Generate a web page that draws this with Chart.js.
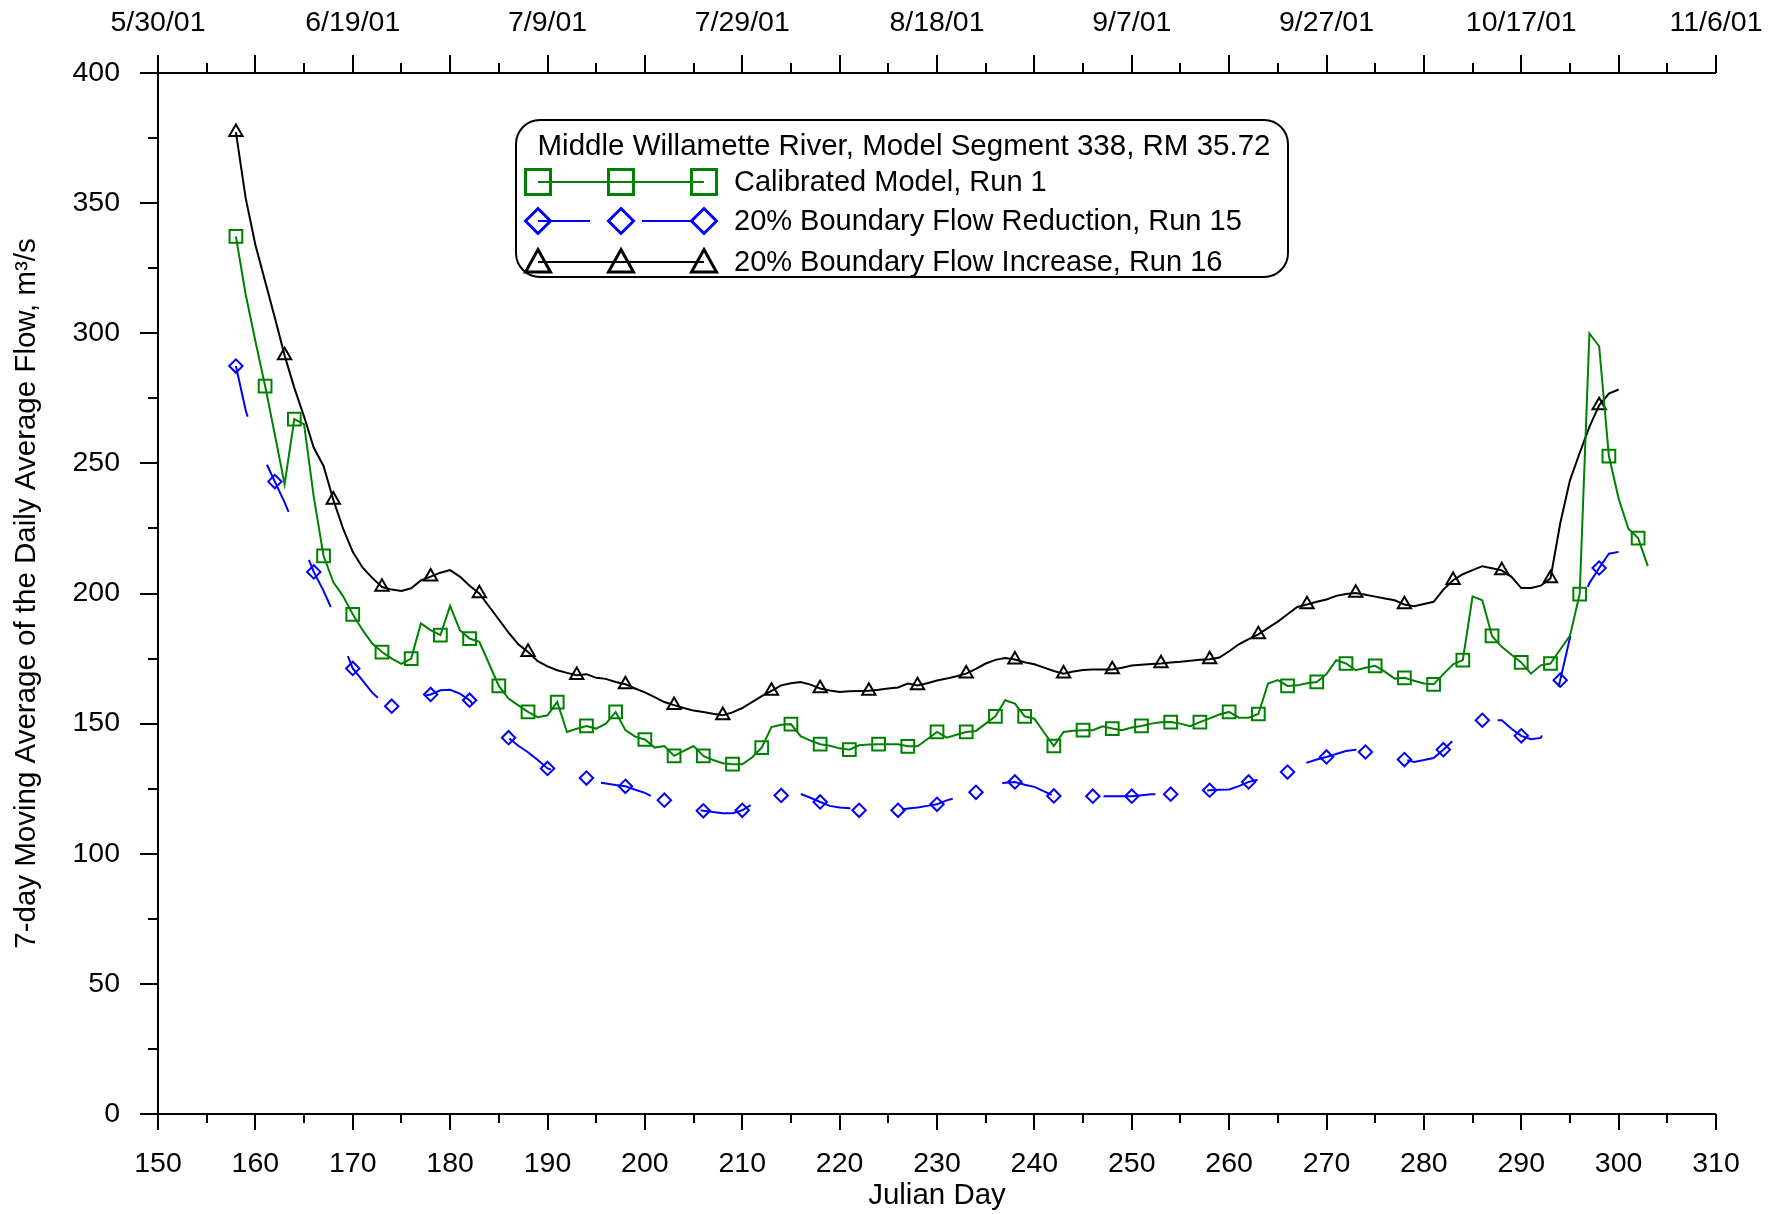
<!DOCTYPE html>
<html>
<head>
<meta charset="utf-8">
<title>Middle Willamette River, Model Segment 338</title>
<script src="https://cdn.jsdelivr.net/npm/chart.js@4.4.4/dist/chart.umd.min.js"></script>
<style>
  html, body { margin: 0; padding: 0; background: #fff; }
  #wrap { width: 1782px; height: 1215px; }
</style>
</head>
<body>
<div id="wrap"><canvas id="chart" width="1782" height="1215"></canvas></div>
<script>
// 7-day moving average flow (m3/s), one value per Julian day.
const CALIBRATED_FIRST_DAY = 158;
const calibrated = [
  337.2, 315, 297, 279.7, 261, 242, 267, 265, 237, 214.5,
  204.4, 199, 192, 186, 180.8, 177.5, 175, 173, 175, 188.5,
  185.9, 184, 195.2, 185.9, 182.7, 181.4, 173, 164.5, 159.6, 157,
  154.5, 152.5, 153.2, 158.3, 146.8, 148, 149.1, 148.1, 150, 154.5,
  147.5, 145, 143.9, 140.8, 141.4, 137.6, 139.5, 141.4, 137.6, 136,
  134.8, 134.4, 134.4, 137, 140.8, 148.7, 149.6, 149.8, 145.2, 143.5,
  142.1, 141.5, 140.5, 140, 141.7, 142, 142.1, 142.1, 142.1, 141.3,
  141.3, 144, 146.8, 144.6, 145.7, 146.8, 147.2, 150, 152.8, 159,
  157.7, 152.8, 151.9, 146.6, 141.4, 146.8, 147.3, 147.5, 147.5, 149,
  148.1, 147.5, 148.5, 149.1, 150, 150.5, 150.6, 150, 149, 150.6,
  152, 153.5, 154.5, 152.3, 152.3, 153.7, 165.4, 166.7, 164.5, 164.7,
  165.5, 166, 169, 174.4, 173.1, 170.5, 171.5, 172.2, 170, 167.3,
  167.6, 166.5, 165.4, 165.1, 169, 172.8, 174.4, 198.9, 197.4, 183.7,
  179.5, 176.5, 173.5, 169.2, 172.4, 173.1, 178.5, 183.7, 199.8, 299.9,
  295, 252.8, 236.5, 224.9, 221.3, 210.5
];

const REDUCTION_FIRST_DAY = 158;
const reduction = [
  287.4, 270.5, 258, 251, 243, 235, 226, 217.5, 208.3, 201,
  192.7, 180.8, 171.2, 166.6, 161.9, 158.5, 156.7, 158, 159.5, 160.5,
  161.2, 162.8, 163, 161.5, 159, 154, 150, 146, 144.6, 141.5,
  139, 136, 132.8, 131.5, 130.5, 129.8, 129.1, 127.6, 127, 126.4,
  125.9, 124.6, 123.4, 121.5, 120.6, 119.5, 118.3, 117.2, 116.5, 116,
  115.6, 115.6, 116.7, 119, 120.5, 121.6, 122.4, 123, 123, 121.5,
  119.9, 118.4, 117.8, 117.5, 116.7, 116.7, 116.7, 116.7, 116.7, 117.4,
  117.8, 118.4, 119, 120.5, 121.5, 122.6, 123.6, 125, 126.5, 127.3,
  127.6, 126.5, 125.7, 124, 122.2, 122.1, 122.1, 122.1, 122.1, 122.1,
  122.1, 122.1, 122.1, 122.5, 122.9, 122.9, 122.9, 123.2, 123.6, 124,
  124.4, 124.6, 124.7, 126, 127.6, 128.5, 129.5, 130.5, 131.4, 133.8,
  135, 136.2, 137.2, 138.3, 139.5, 140, 139.1, 138.2, 137.3, 136.7,
  136.2, 135.3, 136, 136.8, 140, 143.5, 146.5, 149, 151.3, 151.3,
  151.3, 148, 145.3, 144, 144.5, 152, 166.7, 183, 195, 204,
  209.8, 215.3, 216
];

const INCREASE_FIRST_DAY = 158;
const increase = [
  377.3, 352, 334, 320, 306, 291.5, 279, 268, 256, 249,
  236, 225, 216, 210, 206, 202.5, 201.5, 201, 202, 205,
  206.5, 208, 209, 206.5, 203, 200, 195, 190, 185, 180.5,
  177.5, 174, 172, 170.5, 169.5, 168.6, 169, 167.6, 167.2, 166,
  165.1, 163.5, 162, 160.2, 158.3, 157.1, 156, 155, 154.5, 153.8,
  153.2, 154.3, 156, 158.3, 160.6, 162.6, 164.7, 165.5, 166, 165,
  163.5, 162.7, 162.2, 162.4, 162.5, 162.6, 163, 163.5, 163.9, 165.4,
  164.7, 165.5, 166.6, 167.3, 168.2, 169.2, 171, 173.1, 174.5, 175.2,
  174.6, 173.6, 172.8, 171.5, 170.2, 169.2, 170, 170.6, 170.8, 170.8,
  170.8, 171.5, 172.3, 172.6, 172.9, 173.1, 173.5, 173.8, 174.2, 174.5,
  174.7, 175.4, 177.8, 180.5, 182.5, 184.3, 186.8, 189.2, 192, 194.8,
  195.8, 196.8, 197.7, 199.1, 199.8, 200.2, 199.5, 198.8, 198.1, 197.4,
  195.8, 195.1, 196, 196.8, 201.5, 205.1, 207.4, 209, 210.5, 209.7,
  208.9, 206.4, 202.1, 202.1, 203, 205.8, 226.9, 243.5, 254, 264,
  272.3, 276.8, 278.4
];

// Markers are drawn every Nth day of each run.
const calibratedMarkerEvery = 3;
const reductionMarkerEvery = 4;
const increaseMarkerEvery = 5;

// Top axis: calendar dates for Julian days in 2001.
const topTickDays = [150, 170, 190, 210, 230, 250, 270, 290, 310];
const topTickLabels = ['5/30/01', '6/19/01', '7/9/01', '7/29/01', '8/18/01', '9/7/01', '9/27/01', '10/17/01', '11/6/01'];

const LEGEND_TITLE = 'Middle Willamette River, Model Segment 338, RM 35.72';
const seriesNames = ['Calibrated Model, Run 1', '20% Boundary Flow Reduction, Run 15', '20% Boundary Flow Increase, Run 16'];

const FONT = "'Liberation Sans', Arial, Helvetica, sans-serif";
const GREEN = '#008000';
const BLUE = '#0000ff';
const BLACK = '#000000';
const BLUE_DASH = [52, 52];

function toPoints(firstDay, values) {
  return values.map((v, i) => ({ x: firstDay + i, y: v }));
}

function markerRadius(firstDay, every, radius) {
  return ctx => ((ctx.raw.x - firstDay) % every === 0 ? radius : 0);
}

// Hand-drawn axes: outward ticks, long majors and short minors, as in the original plot.
const axesPlugin = {
  id: 'axes',
  afterDraw(chart) {
    const { ctx, chartArea: a, scales: { x, y } } = chart;
    ctx.save();
    ctx.strokeStyle = '#000';
    ctx.lineWidth = 2;
    ctx.lineCap = 'butt';
    ctx.beginPath();
    ctx.moveTo(a.left, a.top); ctx.lineTo(a.right, a.top);
    ctx.moveTo(a.left, a.bottom); ctx.lineTo(a.right, a.bottom);
    ctx.moveTo(a.left, a.top); ctx.lineTo(a.left, a.bottom);
    for (let d = x.min; d <= x.max; d += 5) {
      const px = Math.round(x.getPixelForValue(d));
      const major = d % 10 === 0;
      ctx.moveTo(px, a.bottom); ctx.lineTo(px, a.bottom + (major ? 16 : 9));
      ctx.moveTo(px, a.top); ctx.lineTo(px, a.top - (major ? 18 : 10));
    }
    for (let v = y.min; v <= y.max; v += 25) {
      const py = Math.round(y.getPixelForValue(v));
      ctx.moveTo(a.left, py); ctx.lineTo(a.left - (v % 50 === 0 ? 18 : 10), py);
    }
    ctx.stroke();
    ctx.restore();
  }
};

function drawMarker(ctx, style, cx, cy, half) {
  ctx.beginPath();
  if (style === 'rect') {
    ctx.rect(cx - half, cy - half, half * 2, half * 2);
  } else if (style === 'rectRot') {
    ctx.moveTo(cx, cy - half); ctx.lineTo(cx + half, cy);
    ctx.lineTo(cx, cy + half); ctx.lineTo(cx - half, cy);
    ctx.closePath();
  } else {
    ctx.moveTo(cx, cy - half); ctx.lineTo(cx + half, cy + half * 0.8);
    ctx.lineTo(cx - half, cy + half * 0.8);
    ctx.closePath();
  }
  ctx.stroke();
}

// Boxed legend with a heading, placed inside the plot like the original.
const boxLegendPlugin = {
  id: 'boxLegend',
  afterDraw(chart) {
    const ctx = chart.ctx;
    const box = { left: 516, top: 120, right: 1288, bottom: 277, r: 24 };
    ctx.save();
    ctx.beginPath();
    ctx.roundRect(box.left, box.top, box.right - box.left, box.bottom - box.top, box.r);
    ctx.fillStyle = '#fff';
    ctx.fill();
    ctx.lineWidth = 2;
    ctx.strokeStyle = '#000';
    ctx.stroke();

    ctx.fillStyle = '#000';
    ctx.font = '29.5px ' + FONT;
    ctx.textBaseline = 'middle';
    ctx.textAlign = 'center';
    ctx.fillText(LEGEND_TITLE, (box.left + box.right) / 2 + 2, 147);

    const rows = [182, 221, 262];
    const xs = [538, 621, 704];
    ctx.font = '29px ' + FONT;
    chart.data.datasets.forEach((ds, i) => {
      const ry = rows[i];
      ctx.strokeStyle = ds.borderColor;
      ctx.lineWidth = 2;
      ctx.setLineDash(ds.borderDash || []);
      ctx.beginPath();
      ctx.moveTo(xs[0], ry); ctx.lineTo(xs[2], ry);
      ctx.stroke();
      ctx.setLineDash([]);
      ctx.lineWidth = 3;
      xs.forEach(mx => drawMarker(ctx, ds.pointStyle, mx, ry, 12.5));
      ctx.fillStyle = '#000';
      ctx.textAlign = 'left';
      ctx.fillText(ds.label, 734, ry + 1);
    });
    ctx.restore();
  }
};

// Keep the plot frame fixed: ignore label overhang when laying out the x axes.
function fixHeight(h) {
  return s => { s.height = h; s.paddingLeft = 0; s.paddingRight = 0; };
}

Chart.defaults.font.family = FONT;
Chart.defaults.font.size = 28.5;
Chart.defaults.color = '#000';

new Chart(document.getElementById('chart'), {
  type: 'line',
  data: {
    datasets: [
      {
        label: seriesNames[0],
        data: toPoints(CALIBRATED_FIRST_DAY, calibrated),
        borderColor: GREEN,
        borderWidth: 2,
        pointStyle: 'rect',
        pointRadius: markerRadius(CALIBRATED_FIRST_DAY, calibratedMarkerEvery, 9),
        pointBorderColor: GREEN,
        pointBorderWidth: 2,
        pointBackgroundColor: 'rgba(0,0,0,0)',
        tension: 0
      },
      {
        label: seriesNames[1],
        data: toPoints(REDUCTION_FIRST_DAY, reduction),
        borderColor: BLUE,
        borderWidth: 2,
        borderDash: BLUE_DASH,
        pointStyle: 'rectRot',
        pointRadius: markerRadius(REDUCTION_FIRST_DAY, reductionMarkerEvery, 6.7),
        pointBorderColor: BLUE,
        pointBorderWidth: 2,
        pointBackgroundColor: 'rgba(0,0,0,0)',
        tension: 0
      },
      {
        label: seriesNames[2],
        data: toPoints(INCREASE_FIRST_DAY, increase),
        borderColor: BLACK,
        borderWidth: 2,
        pointStyle: 'triangle',
        pointRadius: markerRadius(INCREASE_FIRST_DAY, increaseMarkerEvery, 7.7),
        pointBorderColor: BLACK,
        pointBorderWidth: 2,
        pointBackgroundColor: 'rgba(0,0,0,0)',
        tension: 0
      }
    ]
  },
  options: {
    responsive: false,
    animation: false,
    events: [],
    layout: { padding: { left: 0, right: 66, top: 0, bottom: 0 } },
    plugins: { legend: { display: false }, tooltip: { enabled: false } },
    scales: {
      x: {
        type: 'linear',
        position: 'bottom',
        min: 150,
        max: 310,
        grid: { display: false, drawTicks: false },
        border: { display: false },
        ticks: { stepSize: 10, padding: 33, autoSkip: false, maxRotation: 0 },
        title: { display: true, text: 'Julian Day', font: { size: 29.5 }, padding: { top: 0, bottom: 1 } },
        afterFit: fixHeight(101)
      },
      xTop: {
        type: 'linear',
        position: 'top',
        min: 150,
        max: 310,
        grid: { display: false, drawTicks: false },
        border: { display: false },
        afterBuildTicks: s => { s.ticks = topTickDays.map(v => ({ value: v })); },
        ticks: {
          padding: 33,
          autoSkip: false,
          maxRotation: 0,
          callback: v => topTickLabels[topTickDays.indexOf(v)]
        },
        afterFit: fixHeight(73)
      },
      y: {
        type: 'linear',
        min: 0,
        max: 400,
        grid: { display: false, drawTicks: false },
        border: { display: false },
        ticks: { stepSize: 50, padding: 38 },
        title: {
          display: true,
          text: '7-day Moving Average of the Daily Average Flow, m³/s',
          font: { size: 29.5 },
          padding: { top: 9, bottom: 0 }
        },
        afterFit: s => { s.width = 158; s.paddingTop = 0; s.paddingBottom = 0; }
      }
    }
  },
  plugins: [axesPlugin, boxLegendPlugin]
});
</script>
</body>
</html>
